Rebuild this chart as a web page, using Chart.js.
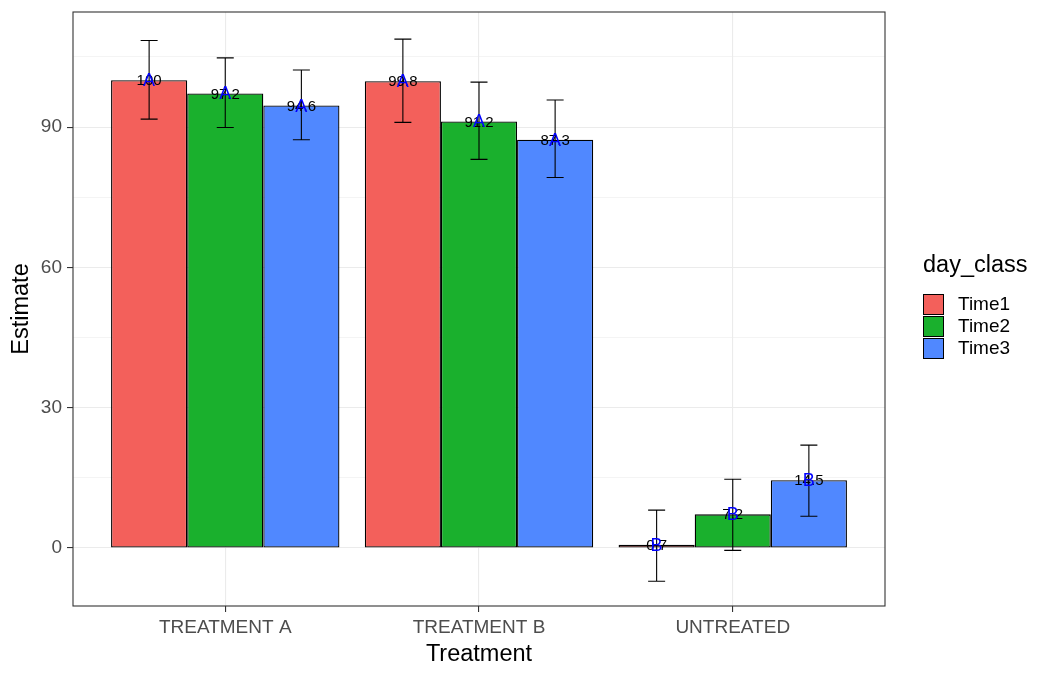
<!DOCTYPE html>
<html>
<head>
<meta charset="utf-8">
<script src="https://cdn.jsdelivr.net/npm/chart.js@4"></script>
<style>
html,body{margin:0;padding:0;background:#fff;}
#wrap{width:1053px;height:677px;}
</style>
</head>
<body>
<div id="wrap"><canvas id="c" width="1053" height="677"></canvas></div>
<script>
const categories = ['TREATMENT A', 'TREATMENT B', 'UNTREATED'];
const seriesNames = ['Time1', 'Time2', 'Time3'];
const time1 = [100.0, 99.8, 0.7];
const time2 = [97.2, 91.2, 7.2];
const time3 = [94.6, 87.3, 14.5];
const time1Low = [91.7, 91.0, -7.1];
const time1High = [108.5, 108.8, 8.1];
const time2Low = [89.9, 83.1, -0.5];
const time2High = [104.8, 99.6, 14.7];
const time3Low = [87.3, 79.2, 6.8];
const time3High = [102.2, 95.8, 22.0];
const time1Letters = ['A', 'A', 'B'];
const time2Letters = ['A', 'A', 'B'];
const time3Letters = ['A', 'A', 'B'];
const yTicks = [0, 30, 60, 90];
const yMinorTicks = [15, 45, 75, 105];
const legendTitle = 'day_class';
const xTitle = 'Treatment';
const yTitle = 'Estimate';

const colors = ['#F3605B', '#1AB02D', '#5088FF'];
const FONT = '"Liberation Sans", Arial, Helvetica, sans-serif';

const values = [time1, time2, time3];
const lows = [time1Low, time2Low, time3Low];
const highs = [time1High, time2High, time3High];
const letters = [time1Letters, time2Letters, time3Letters];

const datasets = seriesNames.map((name, i) => ({
  label: name,
  data: categories.map((c, j) => ({x: j + 1, y: values[i][j]})),
  backgroundColor: colors[i],
  borderColor: '#000000',
  borderWidth: 1.3,
  borderSkipped: false,
  barPercentage: 1.0,
  categoryPercentage: 0.9
}));

function fmt(v) { return String(Number(v.toFixed(1))); }

const overlay = {
  id: 'overlay',
  afterDatasetsDraw(chart) {
    const ctx = chart.ctx;
    const ys = chart.scales.y;
    ctx.save();
    ctx.strokeStyle = '#000000';
    ctx.lineWidth = 1.1;
    seriesNames.forEach((n, i) => {
      const meta = chart.getDatasetMeta(i);
      meta.data.forEach((bar, j) => {
        const x = bar.x;
        const yl = ys.getPixelForValue(lows[i][j]);
        const yh = ys.getPixelForValue(highs[i][j]);
        ctx.beginPath();
        ctx.moveTo(x, yl); ctx.lineTo(x, yh);
        ctx.moveTo(x - 8.5, yl); ctx.lineTo(x + 8.5, yl);
        ctx.moveTo(x - 8.5, yh); ctx.lineTo(x + 8.5, yh);
        ctx.stroke();
      });
    });
    ctx.textAlign = 'center';
    ctx.textBaseline = 'middle';
    ctx.fillStyle = '#000000';
    ctx.font = '15px ' + FONT;
    seriesNames.forEach((n, i) => {
      const meta = chart.getDatasetMeta(i);
      meta.data.forEach((bar, j) => {
        ctx.fillText(fmt(values[i][j]), bar.x, ys.getPixelForValue(values[i][j]) + 1);
      });
    });
    ctx.fillStyle = '#0000FF';
    ctx.font = '18px ' + FONT;
    seriesNames.forEach((n, i) => {
      const meta = chart.getDatasetMeta(i);
      meta.data.forEach((bar, j) => {
        ctx.fillText(letters[i][j], bar.x, ys.getPixelForValue(values[i][j]) + 1);
      });
    });
    ctx.restore();
  },
  afterDraw(chart) {
    const ctx = chart.ctx;
    const a = chart.chartArea;
    ctx.save();
    ctx.strokeStyle = '#333333';
    ctx.lineWidth = 1.1;
    ctx.strokeRect(a.left, a.top, a.right - a.left, a.bottom - a.top);
    const lx = a.right + 38;
    ctx.fillStyle = '#000000';
    ctx.font = '23.5px ' + FONT;
    ctx.textAlign = 'left';
    ctx.textBaseline = 'middle';
    ctx.fillText(legendTitle, lx, 266);
    ctx.font = '19px ' + FONT;
    seriesNames.forEach((n, i) => {
      const by = 294 + i * 22;
      ctx.fillStyle = colors[i];
      ctx.fillRect(lx, by, 21, 20);
      ctx.strokeStyle = '#000000';
      ctx.lineWidth = 1;
      ctx.strokeRect(lx + 0.5, by + 0.5, 20, 20);
      ctx.fillStyle = '#000000';
      ctx.fillText(n, lx + 35, by + 11);
    });
    ctx.restore();
  }
};

new Chart(document.getElementById('c'), {
  type: 'bar',
  data: {datasets},
  plugins: [overlay],
  options: {
    responsive: false,
    animation: false,
    devicePixelRatio: 1,
    layout: {padding: {top: 12, right: 168, left: 0, bottom: 0}},
    plugins: {legend: {display: false}, tooltip: {enabled: false}},
    scales: {
      x: {
        type: 'linear',
        min: 0.4, max: 3.6,
        offset: false,
        afterBuildTicks(s) { s.ticks = categories.map((c, j) => ({value: j + 1})); },
        afterFit(s) { s.height = 71; s.paddingLeft = 0; s.paddingRight = 0; },
        ticks: {
          callback: (v) => categories[Math.round(v) - 1] || '',
          font: {size: 19, family: FONT},
          color: '#4D4D4D',
          padding: 4,
          maxRotation: 0,
          autoSkip: false
        },
        grid: {offset: false, color: '#EBEBEB', lineWidth: 1.1, tickColor: '#333333', tickLength: 6, drawTicks: true},
        border: {display: false},
        title: {display: true, text: xTitle, font: {size: 23.5, family: FONT}, color: '#000000', padding: {top: 0, bottom: 8}}
      },
      y: {
        type: 'linear',
        min: -12.4, max: 114.6,
        afterBuildTicks(s) {
          s.ticks = yTicks.concat(yMinorTicks).sort((a, b) => a - b).map(v => ({value: v}));
        },
        afterFit(s) { s.width = 73; s.paddingTop = 0; s.paddingBottom = 0; },
        ticks: {
          callback: (v) => yTicks.includes(v) ? String(v) : '',
          font: {size: 19, family: FONT},
          color: '#4D4D4D',
          padding: 5,
          autoSkip: false
        },
        grid: {
          color: '#EBEBEB',
          lineWidth: (c) => yTicks.includes(c.tick && c.tick.value) ? 1.1 : 0.55,
          tickColor: (c) => yTicks.includes(c.tick && c.tick.value) ? '#333333' : 'rgba(0,0,0,0)',
          tickLength: 6
        },
        border: {display: false},
        title: {display: true, text: yTitle, font: {size: 23.5, family: FONT}, color: '#000000', padding: {top: 7, bottom: 0}}
      }
    }
  }
});
</script>
</body>
</html>
